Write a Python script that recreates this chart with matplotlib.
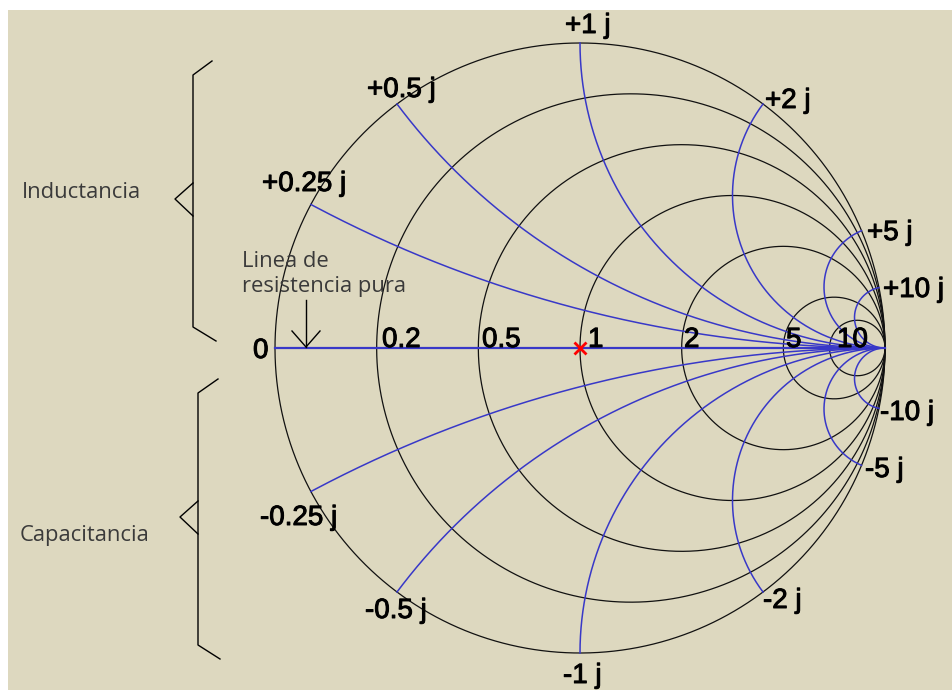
import numpy as np
import matplotlib.pyplot as plt
import matplotlib.patheffects as pe

# Smith chart: normalised resistance circles and reactance arcs
resistances = [0, 0.2, 0.5, 1, 2, 5, 10]
reactances = [0.25, 0.5, 1, 2, 5, 10]
r_labels = ['0', '0.2', '0.5', '1', '2', '5', '10']
x_labels_pos = ['+0.25 j', '+0.5 j', '+1 j', '+2 j', '+5 j', '+10 j']
x_labels_neg = ['-0.25 j', '-0.5 j', '-1 j', '-2 j', '-5 j', '-10 j']
side_labels = ['Inductancia', 'Capacitancia']
note = 'Linea de\nresistencia pura'

W, H = 953, 690
CX, CY, R = 580, 348, 305   # chart centre / radius in pixels
BG = '#DDD8BF'
BLUE = '#3838C8'

fig = plt.figure(figsize=(W / 100, H / 100), dpi=100, facecolor='white')
ax = fig.add_axes([8 / W, 0, 1 - 8 / W, 680 / H])
ax.set_facecolor(BG)
ax.set_xlim((8 - CX) / R, (W - CX) / R)
ax.set_ylim((CY - H) / R, (CY - 10) / R)
ax.set_xticks([])
ax.set_yticks([])
for s in ax.spines.values():
    s.set_visible(False)

t = np.linspace(0, 2 * np.pi, 720)
for r in resistances:
    c, rad = r / (1 + r), 1 / (1 + r)
    ax.plot(c + rad * np.cos(t), rad * np.sin(t), color='#111111', lw=0.9, zorder=2)

for x in reactances:
    px = (x**2 - 1) / (x**2 + 1)
    py = 2 * x / (x**2 + 1)
    th = np.arctan2(py - 1 / x, px - 1)
    if th > -np.pi / 2:
        th -= 2 * np.pi
    tt = np.linspace(-np.pi / 2, th, 400)
    u = 1 + np.cos(tt) / x
    v = 1 / x + np.sin(tt) / x
    ax.plot(u, v, color=BLUE, lw=1.1, zorder=3)
    ax.plot(u, -v, color=BLUE, lw=1.1, zorder=3)

ax.plot([-1, 1], [0, 0], color=BLUE, lw=1.6, zorder=3)
ax.plot(0, 0, marker='x', color='red', ms=9, mew=2, zorder=5)

# overlay in pixel coordinates for labels and annotations
deco = fig.add_axes([0, 0, 1, 1])
deco.set_xlim(0, W)
deco.set_ylim(H, 0)
deco.set_axis_off()
deco.patch.set_alpha(0)

bold = [pe.withStroke(linewidth=0.7, foreground='black')]
lab = dict(family='Liberation Sans', fontsize=20, color='black', va='baseline',
           path_effects=bold)
r_pos = [(253, 358), (382, 347), (482, 347), (588, 347), (684, 347), (786, 347), (837, 347)]
for s, (px_, py_) in zip(r_labels, r_pos):
    deco.text(px_, py_, s, **lab)

pos_pos = [(262, 191), (367, 97), (565, 33), (765, 108), (867, 240), (883, 297)]
neg_pos = [(260, 525), (365, 618), (563, 683), (763, 608), (865, 477), (880, 420)]
for s, (px_, py_) in zip(x_labels_pos, pos_pos):
    deco.text(px_, py_, s, **lab)
for s, (px_, py_) in zip(x_labels_neg, neg_pos):
    deco.text(px_, py_, s, **lab)

side = dict(family='Open Sans', fontsize=15.8, color='#3a3a3a', va='baseline')
deco.text(22, 198, side_labels[0], **side)
deco.text(20, 541, side_labels[1], **side)
deco.text(242, 292, note, linespacing=1.25, **side)

# braces
k = dict(color='black', lw=1.0)
deco.plot([212, 193, 193, 216], [61, 75, 327, 341], **k)
deco.plot([193, 175, 193], [183, 199, 216], **k)
deco.plot([218, 198, 198, 220], [379, 393, 645, 659], **k)
deco.plot([198, 180, 198], [501, 517, 534], **k)

# arrow to the real axis
deco.plot([306, 306], [300, 347], **k)
deco.plot([292, 306, 320], [331, 347, 331], **k)

fig.savefig('out.png', dpi=100, facecolor='white')
